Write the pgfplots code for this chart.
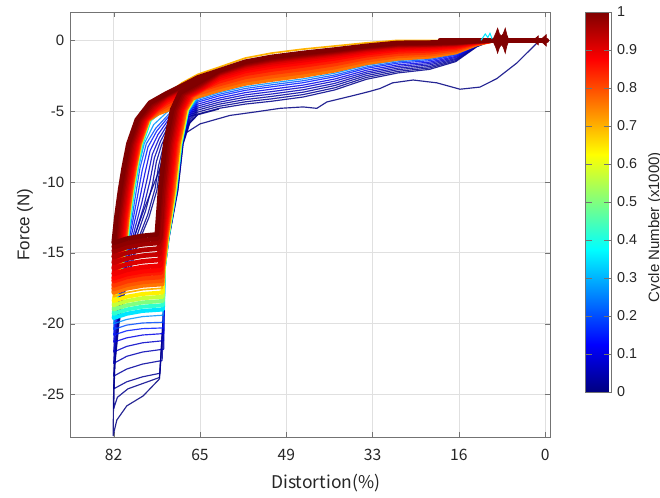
\documentclass[border=0pt]{standalone}
\usepackage{fontspec}
\setmainfont{Liberation Sans}
\newfontfamily\jpfont{Noto Sans CJK JP}
\usepackage{pgfplots}
\pgfplotsset{compat=1.18}

% jet colours of the cycles that are drawn (cycle number / 1000)
\definecolor{c000}{RGB}{0,0,128}
\definecolor{c010}{RGB}{0,0,138}
\definecolor{c020}{RGB}{0,0,148}
\definecolor{c030}{RGB}{0,0,158}
\definecolor{c050}{RGB}{0,0,179}
\definecolor{c070}{RGB}{0,0,199}
\definecolor{c100}{RGB}{0,0,230}
\definecolor{c150}{RGB}{0,26,255}
\definecolor{c200}{RGB}{0,77,255}
\definecolor{c270}{RGB}{0,148,255}
\definecolor{c350}{RGB}{0,230,255}
\definecolor{c420}{RGB}{46,255,209}
\definecolor{c500}{RGB}{128,255,128}
\definecolor{c570}{RGB}{199,255,56}
\definecolor{c640}{RGB}{255,240,0}
\definecolor{c700}{RGB}{255,179,0}
\definecolor{c760}{RGB}{255,117,0}
\definecolor{c790}{RGB}{255,87,0}
\definecolor{c820}{RGB}{255,56,0}
\definecolor{c850}{RGB}{255,26,0}
\definecolor{c870}{RGB}{255,5,0}
\definecolor{c890}{RGB}{240,0,0}
\definecolor{c910}{RGB}{219,0,0}
\definecolor{c930}{RGB}{199,0,0}
\definecolor{c950}{RGB}{179,0,0}
\definecolor{c970}{RGB}{158,0,0}
\definecolor{c985}{RGB}{143,0,0}
\definecolor{c1000}{RGB}{128,0,0}

\pgfplotsset{
  thin cyc/.style={line width=0.7pt, line join=round, opacity=0.85},
  mid cyc/.style={line width=2.4pt, line join=round},
  red cyc/.style={line width=2.8pt, line join=round, line cap=round},
}

\begin{document}
\begin{tikzpicture}
\useasboundingbox (-42pt,-36pt) rectangle (354pt,262.2pt);
\begin{axis}[
    at={(0,0)}, anchor=south west,
    scale only axis,
    width=288pt, height=255pt,
    x dir=reverse,
    xmin=-0.9, xmax=90.3,
    ymin=-28, ymax=2,
    xtick={0,16.4,32.8,49.2,65.6,82},
    xticklabels={0,16,33,49,65,82},
    ytick={-25,-20,-15,-10,-5,0},
    yticklabels={-25,-20,-15,-10,-5,0},
    grid=major,
    grid style={black!12, line width=0.5pt},
    axis line style={black!55},
    tick style={black!55},
    tick align=inside,
    major tick length=3pt,
    xticklabel style={font=\jpfont\fontsize{9.4pt}{11pt}\selectfont, text=black!85, yshift=-4pt},
    yticklabel style={font=\fontsize{9pt}{11pt}\selectfont, text=black!85},
    xlabel={Distortion(\%)},
    ylabel={Force (N)},
    xlabel style={font=\jpfont\fontsize{10.5pt}{12pt}\selectfont, text=black!85,
        at={(axis description cs:0.533,-0.108)}, anchor=center},
    ylabel style={font=\fontsize{10.2pt}{12pt}\selectfont, text=black!85,
        at={(axis description cs:-0.094,0.5)}, anchor=center},
    colormap/jet,
    point meta min=0, point meta max=1,
    colorbar,
    colorbar style={
        at={(parent axis.north east)}, anchor=north west, xshift=12.6pt,
        width=15.6pt, height=228pt,
        ytick={0,0.1,0.2,0.3,0.4,0.5,0.6,0.7,0.8,0.9,1},
        yticklabels={0,0.1,0.2,0.3,0.4,0.5,0.6,0.7,0.8,0.9,1},
        yticklabel style={font=\fontsize{8.6pt}{10pt}\selectfont, text=black!85},
        axis line style={black!55},
        tick style={black!55},
        ylabel={Cycle Number (x1000)},
        every axis y label/.style={at={(axis description cs:2.69,0.434)},
            rotate=90, anchor=center, font=\fontsize{9pt}{11pt}\selectfont, text=black!85},
    },
]

% ---- early cycles (blue) ----
\addplot[thin cyc, c000] coordinates {
(0,0) (1.6,-0.2) (5.4,-1.6) (9.2,-2.7) (12.4,-3.3) (16.2,-3.45) (20.6,-3.0) (25.1,-2.8)
(29,-3.0) (31.4,-3.4) (33.3,-3.6) (36.5,-3.9) (41.5,-4.35) (43.4,-4.8) (46,-4.7) (50.4,-4.8)
(55,-5.05) (59.9,-5.3) (65.6,-5.9) (69.4,-6.8) (72.3,-8.2) (74.1,-9.9) (76.3,-12) (78.5,-14.3)
(80.3,-17) (81.5,-21) (82,-24.5) (82.1,-27.9) (81.4,-26.8) (79.5,-25.8) (76.4,-25.1) (73.3,-23.9)
(72.6,-19.7) (72.3,-16) (71.6,-13.9) (70,-10.6) (69,-7.3) (67.7,-5.9) (66,-5.25) (62,-4.85)
};
\addplot[thin cyc, c010] coordinates {
(0,0) (10,0) (13,-0.45) (17,-1.5) (22,-2.05) (28,-2.3) (34,-2.75) (40,-3.5) (46,-4.0) (52,-4.3)
(57,-4.5) (62,-4.8) (66,-5.2) (69,-5.5) (71,-6.2) (72.5,-7.8) (73.2,-9) (73.8,-10.6) (75.3,-12.5)
(77.3,-14.3) (79.5,-17) (81,-20) (81.8,-23) (82,-26) (81.3,-25.2) (79.3,-24.6) (76.3,-24.2)
(73.3,-23.8) (72.6,-19.7) (72.2,-16) (71.46,-13.9) (69.8,-10.6) (68.8,-7.3) (67.5,-5.8) (66,-5.2) (62,-4.8)
};
\addplot[thin cyc, c020] coordinates {
(0,0) (10,0) (13,-0.43) (17,-1.43) (22,-1.95) (28,-2.19) (34,-2.62) (40,-3.35) (46,-3.83) (52,-4.13)
(57,-4.34) (62,-4.66) (66,-5.06) (69,-5.38) (71.05,-6.1) (72.65,-7.64) (73.46,-8.83) (74.12,-10.44)
(75.54,-12.31) (77.42,-14.12) (79.49,-16.73) (80.98,-19.7) (81.8,-22.65) (82,-24.6) (79.5,-24.1)
(76.5,-23.75) (73.2,-23.5) (72.6,-19.7) (72.25,-16) (71.49,-13.9) (69.85,-10.6) (68.85,-7.3)
(67.55,-5.7) (66,-5.06) (62,-4.66)
};
\addplot[thin cyc, c030] coordinates {
(0,0) (10,0) (13,-0.41) (17,-1.35) (22,-1.85) (28,-2.07) (34,-2.49) (40,-3.19) (46,-3.66) (52,-3.96)
(57,-4.18) (62,-4.51) (66,-4.92) (69,-5.25) (71.13,-5.94) (72.89,-7.38) (73.88,-8.56) (74.63,-10.18)
(75.92,-12.01) (77.61,-13.83) (79.47,-16.3) (80.95,-19.22) (81.8,-22.09) (82,-23.7) (79.5,-23.2)
(76.5,-22.85) (72.8,-22.6) (72.5,-19.5) (72.27,-16) (71.52,-13.9) (69.9,-10.6) (68.9,-7.3)
(67.6,-5.6) (66,-4.92) (62,-4.51)
};
\addplot[thin cyc, c050] coordinates {
(0,0) (10,0) (13,-0.38) (17,-1.28) (22,-1.74) (28,-1.96) (34,-2.36) (40,-3.04) (46,-3.49) (52,-3.79)
(57,-4.01) (62,-4.37) (66,-4.78) (69,-5.13) (71.2,-5.79) (73.12,-7.14) (74.27,-8.3) (75.11,-9.94)
(76.28,-11.72) (77.79,-13.56) (79.46,-15.89) (80.92,-18.77) (81.8,-21.57) (82,-22.8) (79.5,-22.3)
(76.5,-22.0) (72.5,-21.8) (72.4,-19) (72.29,-16) (71.55,-13.9) (69.95,-10.6) (68.95,-7.3)
(67.65,-5.5) (66,-4.78) (62,-4.37)
};
\addplot[thin cyc, c070] coordinates {
(0,0) (10,0) (13,-0.36) (17,-1.2) (22,-1.64) (28,-1.84) (34,-2.24) (40,-2.88) (46,-3.32) (52,-3.62)
(57,-3.85) (62,-4.22) (66,-4.64) (69,-5.0) (71.28,-5.64) (73.34,-6.9) (74.66,-8.05) (75.59,-9.7)
(76.64,-11.44) (77.97,-13.29) (79.44,-15.49) (80.89,-18.32) (81.8,-21.04) (82,-22) (79.5,-21.6)
(76.5,-21.35) (72.52,-21.2) (72.4,-18) (72.31,-16) (71.58,-13.9) (70,-10.6) (69,-7.3)
(67.7,-5.4) (66,-4.64) (62,-4.22)
};
\addplot[thin cyc, c100] coordinates {
(0,0) (10,0) (13,-0.34) (17,-1.13) (22,-1.54) (28,-1.73) (34,-2.11) (40,-2.73) (46,-3.16) (52,-3.45)
(57,-3.69) (62,-4.08) (66,-4.5) (69,-4.88) (71.36,-5.48) (73.58,-6.65) (75.07,-7.78) (76.1,-9.45)
(77.03,-11.13) (78.16,-13.0) (79.43,-15.06) (80.86,-17.84) (81.8,-20.48) (82,-21.3) (79.5,-21.0)
(76.5,-20.8) (72.54,-20.7) (72.34,-16) (71.61,-13.9) (70.05,-10.6) (69.05,-7.3) (67.75,-5.3)
(66,-4.5) (62,-4.08)
};
\addplot[thin cyc, c150] coordinates {
(0,0) (10,0) (13,-0.32) (17,-1.05) (22,-1.44) (28,-1.61) (34,-1.98) (40,-2.57) (46,-2.99) (52,-3.28)
(57,-3.53) (62,-3.93) (66,-4.36) (69,-4.75) (71.44,-5.33) (73.81,-6.4) (75.47,-7.52) (76.59,-9.2)
(77.39,-10.84) (78.35,-12.73) (79.41,-14.65) (80.83,-17.38) (81.8,-19.95) (82,-20.8) (79.5,-20.5)
(76.5,-20.35) (72.56,-20.3) (72.36,-16) (71.64,-13.9) (70.1,-10.6) (69.1,-7.3) (67.8,-5.2)
(66,-4.36) (62,-3.93)
};
\addplot[thin cyc, c200] coordinates {
(0,0) (10,0) (13,-0.3) (17,-0.99) (22,-1.35) (28,-1.52) (34,-1.88) (40,-2.45) (46,-2.85) (52,-3.14)
(57,-3.4) (62,-3.81) (66,-4.25) (69,-4.65) (71.5,-5.2) (74,-6.2) (75.8,-7.3) (77,-9) (77.7,-10.6)
(78.5,-12.5) (79.4,-14.3) (80.8,-17) (81.8,-19.5) (82,-20.4) (79.5,-20.1) (76.5,-19.95) (72.58,-19.9)
(72.38,-16) (71.67,-13.9) (70.15,-10.6) (69.15,-7.3) (67.85,-5.1) (66,-4.25) (62,-3.81)
};
\addplot[thin cyc, c270] coordinates {
(0,0) (10,0) (13,-0.28) (17,-0.93) (22,-1.27) (28,-1.43) (34,-1.77) (40,-2.32) (46,-2.72) (52,-3.01)
(57,-3.27) (62,-3.7) (66,-4.14) (69,-4.55) (71.8,-5.05) (74.4,-5.95) (76.2,-7.3) (77.3,-9) (78.1,-10.6)
(78.9,-12.5) (79.6,-14.3) (81,-17) (81.8,-19.3) (82,-20) (79.5,-19.7) (76.5,-19.5) (72.6,-19.4)
(72.4,-16) (71.7,-13.9) (70.2,-10.6) (69.2,-7.3) (67.9,-5.0) (66,-4.14) (62,-3.7)
};

% ---- middle cycles ----
\addplot[mid cyc, c350] coordinates {
(0,0) (10,0) (13,-0.16) (17,-0.53) (22,-0.72) (28,-0.81) (34,-1.08) (40,-1.49) (46,-1.8) (52,-2.09)
(57,-2.39) (62,-2.92) (66,-3.38) (69,-3.88) (72,-4.43) (73.1,-5.03) (75.1,-5.6) (76.7,-7.3) (77.6,-9)
(78.3,-10.6) (79,-12.5) (79.5,-14.3) (81,-16.95) (82,-19.6) (79.5,-19.3) (76.5,-19.1) (72.64,-19.0)
(72.45,-16) (71.76,-13.9) (70.3,-10.6) (69.3,-7.3) (68,-4.9) (66.5,-4.0) (63.6,-3.4) (62,-2.92)
};
\addplot[mid cyc, c420] coordinates {
(0,0) (10,0) (13,-0.16) (17,-0.53) (22,-0.72) (28,-0.81) (34,-1.08) (40,-1.49) (46,-1.8) (52,-2.09)
(57,-2.39) (62,-2.92) (66,-3.38) (69,-3.88) (72,-4.43) (73.2,-5.0) (75.2,-5.6) (76.8,-7.3) (77.7,-9)
(78.4,-10.6) (79.1,-12.5) (79.6,-14.3) (81.04,-16.8) (82,-19.3) (79.5,-19.0) (76.5,-18.8) (72.66,-18.7)
(72.47,-16) (71.79,-13.9) (70.35,-10.6) (69.35,-7.3) (68.05,-4.9) (66.55,-3.99) (63.65,-3.39) (62,-2.92)
};
\addplot[mid cyc, c500] coordinates {
(0,0) (10,0) (13,-0.18) (17,-0.6) (22,-0.82) (28,-0.92) (34,-1.21) (40,-1.64) (46,-1.97) (52,-2.26)
(57,-2.55) (62,-3.06) (66,-3.52) (69,-4.0) (72,-4.55) (73.26,-4.98) (75.3,-5.6) (76.9,-7.3) (77.8,-9)
(78.5,-10.6) (79.2,-12.5) (79.7,-14.3) (81.08,-16.65) (82,-19) (79.5,-18.7) (76.5,-18.5) (72.68,-18.4)
(72.49,-16) (71.82,-13.9) (70.4,-10.6) (69.4,-7.3) (68.1,-4.9) (66.6,-3.98) (63.7,-3.38) (62,-3.06)
};
\addplot[mid cyc, c570] coordinates {
(0,0) (10,0) (13,-0.18) (17,-0.6) (22,-0.82) (28,-0.92) (34,-1.21) (40,-1.64) (46,-1.97) (52,-2.26)
(57,-2.55) (62,-3.06) (66,-3.52) (69,-4.0) (72,-4.55) (73.3,-4.96) (75.35,-5.6) (76.95,-7.3) (77.85,-9)
(78.55,-10.6) (79.25,-12.5) (79.75,-14.3) (81.1,-16.5) (82,-18.7) (79.5,-18.4) (76.5,-18.2) (72.7,-18.1)
(72.51,-16) (71.85,-13.9) (70.45,-10.6) (69.45,-7.3) (68.15,-4.9) (66.65,-3.98) (63.75,-3.38) (62,-3.06)
};
\addplot[mid cyc, c640] coordinates {
(0,0) (10,0) (13,-0.2) (17,-0.68) (22,-0.92) (28,-1.04) (34,-1.34) (40,-1.8) (46,-2.14) (52,-2.43)
(57,-2.71) (62,-3.21) (66,-3.66) (69,-4.13) (72,-4.68) (73.34,-4.95) (75.4,-5.6) (77,-7.3) (77.9,-9)
(78.6,-10.6) (79.3,-12.5) (79.8,-14.3) (81.12,-16.35) (82,-18.4) (79.5,-18.1) (76.5,-17.9) (72.72,-17.8)
(72.54,-16) (71.88,-13.9) (70.5,-10.6) (69.5,-7.3) (68.2,-4.9) (66.7,-3.97) (63.8,-3.37) (62,-3.21)
};
\addplot[line width=1pt, line join=round, c700] coordinates {
(0,0) (10,0) (13,0) (17,0) (22,0) (28,0) (34,-0.18) (40,-0.4) (46,-0.62) (52,-0.9) (57,-1.25)
(62,-1.9) (66,-2.4) (69,-3.0) (71.5,-3.7) (73.4,-4.9) (75.45,-5.6) (77.05,-7.3) (77.95,-9) (78.65,-10.6)
(79.35,-12.5) (79.85,-14.3) (81.14,-16.2) (82,-18.1) (79.5,-17.8) (76.5,-17.6) (72.76,-17.5)
(72.58,-16) (71.94,-13.9) (70.6,-10.6) (69.6,-7.3) (68.3,-4.9) (66.8,-3.96) (63.9,-3.36) (62,-3.26)
};

% ---- late cycles (orange to dark red) ----
\addplot[red cyc, c760] coordinates {
(0,0) (10,0) (13,-0.25) (17,-0.83) (22,-1.13) (28,-1.27) (34,-1.59) (40,-2.11) (46,-2.48) (52,-2.77)
(57,-3.04) (62,-3.5) (66,-3.94) (69,-4.38) (72,-4.93) (73.6,-5.15) (75.5,-5.6) (77.1,-7.3) (78,-9)
(78.7,-10.6) (79.4,-12.5) (79.9,-14.3) (81.16,-16.05) (82,-17.8) (79.5,-17.5) (76.5,-17.3) (72.8,-17.2)
(72.63,-16) (72,-13.9) (70.7,-10.6) (69.7,-7.3) (68.4,-4.9) (66.9,-3.95) (64,-3.4) (62,-3.5)
};
\addplot[red cyc, c790] coordinates {
(0,0) (10,0) (13,-0.22) (17,-0.72) (22,-0.98) (28,-1.1) (34,-1.41) (40,-1.89) (46,-2.24) (52,-2.53)
(57,-2.81) (62,-3.29) (66,-3.74) (69,-4.2) (72,-4.75) (73.5,-5.0) (75.6,-5.6) (77.2,-7.3) (78.1,-9)
(78.8,-10.6) (79.5,-12.5) (80,-14.3) (81.2,-15.9) (82,-17.55) (79.5,-17.25) (76.5,-17.05) (72.86,-16.95)
(72.69,-16) (72.09,-13.9) (70.85,-10.6) (69.85,-7.3) (68.55,-4.9) (67.05,-3.94) (64.15,-3.34) (62,-3.29)
};
\addplot[red cyc, c820] coordinates {
(0,0) (10,0) (13,-0.18) (17,-0.62) (22,-0.84) (28,-0.94) (34,-1.23) (40,-1.67) (46,-2.01) (52,-2.29)
(57,-2.58) (62,-3.09) (66,-3.55) (69,-4.03) (72,-4.58) (73.58,-4.92) (75.7,-5.6) (77.3,-7.3) (78.2,-9)
(78.9,-10.6) (79.6,-12.5) (80.1,-14.3) (81.24,-15.8) (82,-17.3) (79.5,-17.0) (76.5,-16.8) (72.92,-16.7)
(72.76,-16) (72.18,-13.9) (71,-10.6) (70,-7.3) (68.7,-4.9) (67.2,-3.92) (64.3,-3.32) (62,-3.09)
};
\addplot[red cyc, c850] coordinates {
(0,0) (10,0) (13,-0.15) (17,-0.51) (22,-0.7) (28,-0.78) (34,-1.05) (40,-1.45) (46,-1.77) (52,-2.06)
(57,-2.36) (62,-2.89) (66,-3.35) (69,-3.85) (72,-4.4) (73.7,-4.84) (75.85,-5.6) (77.45,-7.3) (78.35,-9)
(79.05,-10.6) (79.75,-12.5) (80.25,-14.3) (81.3,-15.65) (82,-17) (79.5,-16.7) (76.5,-16.5) (73,-16.4)
(72.85,-16) (72.3,-13.9) (71.2,-10.6) (70.2,-7.3) (68.9,-4.9) (67.4,-3.9) (64.5,-3.3) (62,-2.89)
};
\addplot[red cyc, c870] coordinates {
(0,0) (10,0) (13,-0.13) (17,-0.42) (22,-0.57) (28,-0.64) (34,-0.9) (40,-1.27) (46,-1.57) (52,-1.85)
(57,-2.16) (62,-2.71) (66,-3.18) (69,-3.7) (72,-4.25) (73.82,-4.8) (76,-5.6) (77.6,-7.3) (78.5,-9)
(79.2,-10.6) (79.9,-12.5) (80.4,-14.3) (81.36,-15.55) (82,-16.8) (79.5,-16.5) (76.5,-16.3) (73.08,-16.2)
(72.42,-13.9) (71.4,-10.6) (70.4,-7.3) (69.1,-4.9) (67.6,-3.88) (64.7,-3.28) (62,-2.71)
};
\addplot[red cyc, c890] coordinates {
(0,0) (10,0) (13,-0.1) (17,-0.35) (22,-0.47) (28,-0.53) (34,-0.77) (40,-1.11) (46,-1.4) (52,-1.68)
(57,-2.0) (62,-2.57) (66,-3.04) (69,-3.58) (72,-4.13) (73.98,-4.75) (76.2,-5.6) (77.8,-7.3) (78.7,-9)
(79.4,-10.6) (80.1,-12.5) (80.6,-14.3) (81.44,-15.4) (82,-16.5) (79.5,-16.2) (76.5,-16.0) (73.16,-15.9)
(72.54,-13.9) (71.6,-10.6) (70.6,-7.3) (69.3,-4.9) (67.8,-3.86) (64.9,-3.26) (62,-2.57)
};
\addplot[red cyc, c910] coordinates {
(0,0) (10,0) (13,-0.09) (17,-0.29) (22,-0.39) (28,-0.44) (34,-0.67) (40,-0.99) (46,-1.26) (52,-1.55)
(57,-1.87) (62,-2.45) (66,-2.93) (69,-3.48) (72,-4.03) (74.14,-4.7) (76.4,-5.6) (78,-7.3) (78.9,-9)
(79.6,-10.6) (80.3,-12.5) (80.8,-14.3) (81.5,-15.2) (82,-16.1) (79.5,-15.8) (76.5,-15.6) (73.26,-15.5)
(72.69,-13.9) (71.85,-10.6) (70.85,-7.3) (69.55,-4.9) (68.05,-3.84) (65.15,-3.24) (62,-2.45)
};
\addplot[red cyc, c930] coordinates {
(0,0) (10,0) (13,-0.07) (17,-0.24) (22,-0.33) (28,-0.37) (34,-0.59) (40,-0.9) (46,-1.16) (52,-1.44)
(57,-1.77) (62,-2.36) (66,-2.85) (69,-3.4) (72,-3.95) (74.3,-4.65) (76.6,-5.6) (78.2,-7.3) (79.1,-9)
(79.8,-10.6) (80.5,-12.5) (81,-14.3) (81.6,-15.0) (82,-15.7) (79.5,-15.4) (76.5,-15.2) (73.36,-15.1)
(72.84,-13.9) (72.1,-10.6) (71.1,-7.3) (69.8,-4.9) (68.3,-3.81) (65.4,-3.21) (62,-2.36)
};
\addplot[red cyc, c950] coordinates {
(0,0) (10,0) (13,-0.06) (17,-0.21) (22,-0.29) (28,-0.32) (34,-0.54) (40,-0.83) (46,-1.09) (52,-1.38)
(57,-1.71) (62,-2.31) (66,-2.79) (69,-3.35) (72,-3.9) (74.5,-4.59) (76.85,-5.6) (78.45,-7.3) (79.35,-9)
(80.05,-10.6) (80.75,-12.5) (81.25,-14.3) (81.7,-14.8) (82,-15.3) (79.5,-15.0) (76.5,-14.8) (73.46,-14.7)
(72.99,-13.9) (72.35,-10.6) (71.35,-7.3) (70.05,-4.9) (68.55,-3.79) (65.65,-3.19) (62,-2.31)
};
\addplot[red cyc, c970] coordinates {
(0,0) (10,0) (13,-0.05) (17,-0.18) (22,-0.25) (28,-0.28) (34,-0.49) (40,-0.77) (46,-1.03) (52,-1.31)
(57,-1.64) (62,-2.25) (66,-2.74) (69,-3.3) (72,-3.85) (74.7,-4.53) (77.1,-5.6) (78.7,-7.3) (79.6,-9)
(80.3,-10.6) (81,-12.5) (81.5,-14.3) (82,-14.9) (79.5,-14.6) (76.5,-14.4) (73.56,-14.3)
(73.14,-13.9) (72.6,-10.6) (71.6,-7.3) (70.3,-4.9) (68.8,-3.76) (65.9,-3.16) (62,-2.25)
};
\addplot[red cyc, c985] coordinates {
(0,0) (10,0) (13,-0.05) (17,-0.15) (22,-0.21) (28,-0.23) (34,-0.44) (40,-0.71) (46,-0.96) (52,-1.24)
(57,-1.58) (62,-2.19) (66,-2.68) (69,-3.25) (72,-3.8) (74.9,-4.46) (77.35,-5.6) (78.95,-7.3) (79.85,-9)
(80.55,-10.6) (81.25,-12.5) (81.75,-14.3) (82,-14.6) (79.5,-14.3) (76.5,-14.1) (73.68,-14.0)
(72.9,-10.6) (71.9,-7.3) (70.6,-4.9) (69.1,-3.73) (66.2,-3.13) (62,-2.19)
};
\addplot[red cyc, c1000] coordinates {
(0,0) (10,0) (13,-0.04) (17,-0.12) (22,-0.16) (28,-0.18) (34,-0.39) (40,-0.65) (46,-0.89) (52,-1.17)
(57,-1.51) (62,-2.13) (66,-2.62) (69,-3.2) (72,-3.75) (75.1,-4.4) (77.6,-5.6) (79.2,-7.3) (80.1,-9)
(80.8,-10.6) (81.5,-12.5) (82,-14.3) (79.5,-14.0) (76.5,-13.8) (73.8,-13.7)
(73.2,-10.6) (72.2,-7.3) (70.9,-4.9) (69.4,-3.7) (66.5,-3.1) (62,-2.13)
};

% ---- start of the cycles near zero distortion ----
\addplot[red cyc, c1000] coordinates {(-0.3,0) (20,0)};
\addplot[line width=0.6pt, c350] coordinates {(12.2,0) (11.4,0.45) (10.9,0.2) (10.5,0.5) (10.1,0.1)};
\addplot[fill=c1000, draw=c1000, line width=0.4pt] coordinates {
(10.0,0) (9.4,0.5) (9.05,0.85) (8.7,0.45) (8.3,0.3) (7.95,0.5) (7.6,0.85) (7.3,0.4) (6.9,0)
(7.3,-0.4) (7.6,-0.9) (7.95,-0.5) (8.3,-0.3) (8.7,-0.5) (9.05,-0.9) (9.4,-0.5) (10.0,0)
};
\addplot[fill=c1000, draw=c1000, line width=0.4pt] coordinates {(2.3,0) (1.3,0.32) (1.3,-0.32) (2.3,0)};
\addplot[fill=c1000, draw=c1000, line width=0.4pt] coordinates {(1.0,0) (-0.2,0.4) (-0.2,-0.4) (1.0,0)};

\end{axis}
\end{tikzpicture}
\end{document}
